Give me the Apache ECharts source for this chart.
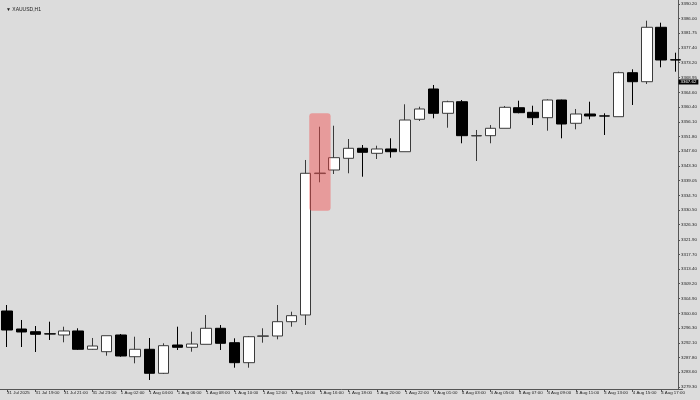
<!DOCTYPE html>
<html>
<head>
<meta charset="utf-8">
<script src="https://cdn.jsdelivr.net/npm/echarts@6/dist/echarts.min.js"></script>
<style>html,body{margin:0;padding:0;background:#dcdcdc;}#c{width:700px;height:400px;}</style>
</head>
<body>
<div id="c"></div>
<script>
var times = ['31 Jul 17:00','31 Jul 18:00','31 Jul 19:00','31 Jul 20:00','31 Jul 21:00','31 Jul 22:00','31 Jul 23:00',
 '1 Aug 01:00','1 Aug 02:00','1 Aug 03:00','1 Aug 04:00','1 Aug 05:00','1 Aug 06:00','1 Aug 07:00','1 Aug 08:00','1 Aug 09:00','1 Aug 10:00','1 Aug 11:00','1 Aug 12:00','1 Aug 13:00','1 Aug 14:00','1 Aug 15:00','1 Aug 16:00','1 Aug 17:00','1 Aug 18:00','1 Aug 19:00','1 Aug 20:00','1 Aug 21:00','1 Aug 22:00','1 Aug 23:00',
 '4 Aug 01:00','4 Aug 02:00','4 Aug 03:00','4 Aug 04:00','4 Aug 05:00','4 Aug 06:00','4 Aug 07:00','4 Aug 08:00','4 Aug 09:00','4 Aug 10:00','4 Aug 11:00','4 Aug 12:00','4 Aug 13:00','4 Aug 14:00','4 Aug 15:00','4 Aug 16:00','4 Aug 17:00','4 Aug 18:00'];
var xLabels = ['31 Jul 2025','31 Jul 19:00','31 Jul 21:00','31 Jul 23:00','1 Aug 02:00','1 Aug 04:00','1 Aug 06:00','1 Aug 08:00','1 Aug 10:00','1 Aug 12:00','1 Aug 14:00','1 Aug 16:00','1 Aug 18:00','1 Aug 20:00','1 Aug 22:00','4 Aug 01:00','4 Aug 03:00','4 Aug 05:00','4 Aug 07:00','4 Aug 09:00','4 Aug 11:00','4 Aug 13:00','4 Aug 15:00','4 Aug 17:00'];
var opens = [3301.31,3296.09,3295.31,3294.70,3294.36,3295.52,3290.22,3289.52,3294.36,3288.07,3290.22,3283.27,3291.46,3290.80,3291.66,3296.30,3292.13,3286.34,3293.98,3294.07,3298.21,3300.15,3341.10,3342.13,3345.52,3348.42,3346.97,3348.22,3347.43,3356.82,3365.59,3358.55,3361.91,3352.00,3352.07,3354.21,3360.17,3358.84,3357.28,3362.40,3355.66,3358.35,3357.80,3357.57,3370.31,3367.70,3383.46,3374.05];
var closes = [3295.80,3295.23,3294.56,3294.65,3295.52,3290.22,3291.17,3294.15,3288.28,3290.22,3283.27,3291.26,3290.80,3291.75,3296.30,3291.95,3286.34,3293.86,3294.10,3298.21,3299.95,3341.18,3341.25,3345.70,3348.42,3347.26,3348.22,3347.43,3356.61,3359.80,3358.55,3361.91,3352.07,3352.10,3354.21,3360.29,3358.73,3357.28,3362.40,3355.45,3358.35,3357.77,3357.75,3370.31,3367.70,3383.46,3373.99,3373.99];
var lows = [3290.88,3290.88,3289.43,3292.91,3292.24,3290.01,3290.10,3288.36,3288.07,3286.16,3281.33,3283.06,3290.01,3289.52,3291.66,3290.01,3284.89,3284.89,3292.13,3293.11,3296.76,3297.25,3338.57,3340.98,3341.18,3340.19,3345.32,3345.70,3347.43,3356.32,3357.10,3354.38,3349.87,3344.74,3349.87,3354.21,3358.55,3355.16,3353.51,3351.31,3353.92,3356.82,3352.27,3357.57,3360.96,3367.04,3371.87,3370.60];
var highs = [3303.04,3298.70,3296.96,3298.21,3296.76,3296.30,3293.49,3294.15,3294.65,3293.86,3293.49,3291.95,3296.76,3295.31,3300.15,3297.25,3293.40,3294.07,3296.30,3303.04,3301.10,3345.03,3354.67,3354.96,3351.11,3349.37,3349.17,3351.31,3361.16,3360.46,3366.75,3362.20,3362.40,3353.72,3355.16,3360.67,3362.20,3360.75,3362.61,3362.50,3359.80,3361.91,3358.55,3370.60,3371.29,3385.37,3384.79,3376.10];
var yTicks = [3279.30,3283.60,3287.80,3292.10,3296.30,3300.60,3304.90,3309.20,3313.40,3317.70,3321.90,3326.30,3330.50,3334.70,3339.05,3343.30,3347.60,3351.80,3356.10,3360.40,3364.60,3368.95,3373.20,3377.40,3381.75,3386.00,3390.20];
var priceLabel = 3367.62;
var highlightBar = '1 Aug 16:00';
var highlightHigh = 3358.6;
var highlightLow = 3330.3;

var ohlc = times.map(function (t, i) { return [opens[i], closes[i], lows[i], highs[i]]; });
var FONT = 'Liberation Sans, Arial, sans-serif';
var chart = echarts.init(document.getElementById('c'), null, {renderer: 'canvas'});
chart.setOption({
  animation: false,
  backgroundColor: '#dcdcdc',
  title: {
    text: '\u25BC XAUUSD,H1', left: 1, top: 2,
    textStyle: {fontSize: 5, fontWeight: 'normal', color: '#222', fontFamily: FONT}
  },
  grid: {left: -4.86, right: 17.5, top: 0, bottom: 11},
  xAxis: {
    type: 'category', data: times, boundaryGap: true,
    axisLine: {lineStyle: {color: '#555', width: 1}},
    axisTick: {show: true, interval: 1, alignWithLabel: true, length: 3, lineStyle: {color: '#555'}},
    axisLabel: {
      interval: 1, align: 'left', margin: 2, fontSize: 4.4, color: '#222', fontFamily: FONT,
      formatter: function (v, idx) { return xLabels[Math.floor(idx / 2)]; }
    },
    splitLine: {show: false}
  },
  yAxis: {
    type: 'value', position: 'right', offset: -4.5, min: 3278.72, max: 3391.36, scale: true,
    axisLine: {show: true, lineStyle: {color: '#555', width: 1}},
    axisTick: {show: true, length: 2, customValues: yTicks, lineStyle: {color: '#555'}},
    axisLabel: {
      customValues: yTicks, margin: 3, fontSize: 4.4, color: '#222', fontFamily: FONT,
      formatter: function (v) { return v.toFixed(2); }
    },
    splitLine: {show: false}
  },
  series: [{
    type: 'candlestick',
    data: ohlc,
    barWidth: 11,
    itemStyle: {color: '#ffffff', color0: '#000000', borderColor: '#3a3a3a', borderColor0: '#000000', borderWidth: 1},
    markLine: {
      silent: true, symbol: 'none',
      lineStyle: {color: 'rgba(0,0,0,0)', width: 0},
      label: {
        show: true, position: 'end', distance: -4, color: '#fff', backgroundColor: '#000',
        fontSize: 4.4, fontFamily: FONT, padding: [1, 2, 0, 2],
        formatter: function (p) { return p.value.toFixed(2); }
      },
      data: [{yAxis: priceLabel}]
    }
  }, {
    type: 'custom',
    z: 5,
    data: [[highlightBar, highlightHigh, highlightLow]],
    encode: {x: 0, y: [1, 2]},
    renderItem: function (params, api) {
      var top = api.coord([api.value(0), api.value(1)]);
      var bot = api.coord([api.value(0), api.value(2)]);
      var w = api.size([1, 0])[0] * 1.5;
      return {
        type: 'rect',
        shape: {x: top[0] - w / 2, y: top[1], width: w, height: bot[1] - top[1], r: 3},
        style: {fill: 'rgba(245,75,75,0.45)'}
      };
    }
  }]
});
</script>
</body>
</html>
